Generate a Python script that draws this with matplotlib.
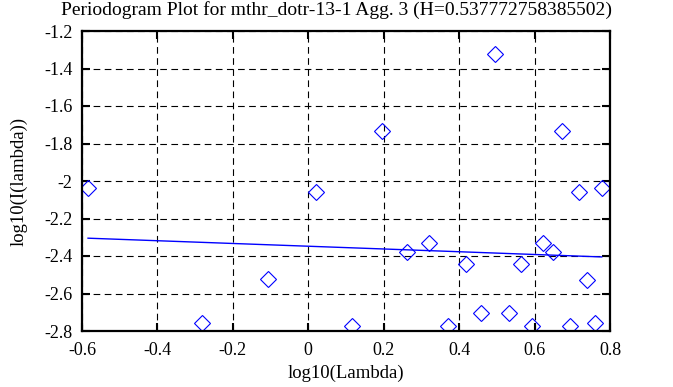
import matplotlib
matplotlib.use("Agg")
import matplotlib.pyplot as plt

title = "Periodogram Plot for mthr_dotr-13-1 Agg. 3 (H=0.537772758385502)"
x_label = "log10(Lambda)"
y_label = "log10(I(lambda))"

log_lambda = [-0.584, -0.281, -0.106, 0.020, 0.117, 0.196, 0.263, 0.319, 0.371,
              0.418, 0.459, 0.496, 0.531, 0.563, 0.593, 0.622, 0.648, 0.672,
              0.695, 0.717, 0.739, 0.759, 0.778]
log_I = [-2.039, -2.759, -2.524, -2.060, -2.772, -1.733, -2.380, -2.329, -2.773,
         -2.441, -2.704, -1.323, -2.704, -2.441, -2.772, -2.329, -2.380, -1.733,
         -2.772, -2.057, -2.526, -2.757, -2.036]

fit_x = [-0.584, 0.778]
fit_y = [-2.305, -2.405]

x_ticks = [-0.6, -0.4, -0.2, 0, 0.2, 0.4, 0.6, 0.8]
x_ticklabels = ["-0.6", "-0.4", "-0.2", "0", "0.2", "0.4", "0.6", "0.8"]
y_ticks = [-2.8, -2.6, -2.4, -2.2, -2.0, -1.8, -1.6, -1.4, -1.2]
y_ticklabels = ["-2.8", "-2.6", "-2.4", "-2.2", "-2", "-1.8", "-1.6", "-1.4", "-1.2"]

plt.rcParams['font.family'] = ['Liberation Serif', 'DejaVu Serif']

fig = plt.figure(figsize=(6.73, 3.87), dpi=100)
ax = fig.add_axes([82/673, 1 - 331/387, (610-82)/673, (331-31)/387])

ax.plot(log_lambda, log_I, linestyle='none', marker='D', markersize=8,
        markerfacecolor='none', markeredgecolor='#0000ff', markeredgewidth=0.8)
ax.plot(fit_x, fit_y, color='#0000ff', linewidth=1.0)

ax.set_xlim(-0.6, 0.8)
ax.set_ylim(-2.8, -1.2)
ax.set_xticks(x_ticks)
ax.set_xticklabels(x_ticklabels)
ax.set_yticks(y_ticks)
ax.set_yticklabels(y_ticklabels)

ax.grid(True, color='black', linestyle=(0, (6, 4)), linewidth=0.8)
ax.tick_params(direction='in', length=6, width=1.5, labelsize=13,
               top=True, right=True)
ax.tick_params(axis='x', pad=8)
ax.tick_params(axis='y', pad=7)
for s in ax.spines.values():
    s.set_linewidth(1.6)

fig.text(0.5, 1 - 10/387, title, fontsize=14, ha='center', va='center')
ax.set_xlabel(x_label, fontsize=13.5, labelpad=4)
ax.set_ylabel(y_label, fontsize=13.5, labelpad=12)

fig.savefig("out.png", dpi=100)
